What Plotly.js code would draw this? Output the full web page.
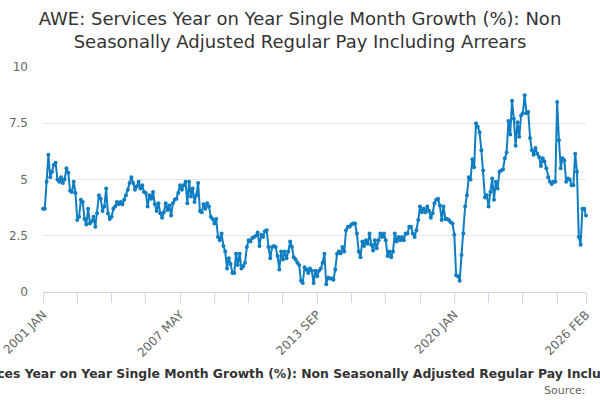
<!DOCTYPE html>
<html>
<head>
<meta charset="utf-8">
<script src="https://cdn.plot.ly/plotly-3.0.1.min.js"></script>
<style>
  html, body { margin: 0; padding: 0; background: #fff; }
  #chart { width: 600px; height: 400px; }
</style>
</head>
<body>
<div id="chart"></div>
<script>
// ---- Data: monthly values, 2001 JAN .. 2026 FEB ----
const firstYear = 2001;
const monthNames = ['JAN', 'FEB', 'MAR', 'APR', 'MAY', 'JUN', 'JUL', 'AUG', 'SEP', 'OCT', 'NOV', 'DEC'];

const growth2001to2005 = [
  3.7, 3.7, 4.9, 6.1, 5.1, 5.35, 5.65, 5.75, 5.0, 4.9, 5.1, 4.85,
  5.0, 5.5, 5.3, 4.5, 4.45, 4.9, 4.4, 3.2, 3.35, 4.1, 4.0, 3.25,
  3.0, 3.7, 3.05, 3.15, 3.35, 2.9, 3.5, 4.3, 4.15, 3.6, 3.8, 4.6,
  3.5, 3.25, 3.35, 3.7, 3.8, 4.0, 3.9, 4.0, 3.9, 4.1, 4.3, 4.55,
  4.85, 5.1, 4.85, 4.55, 4.7, 4.9, 4.6, 4.75, 4.45, 4.4, 3.8, 4.3,
];
const growth2006to2010 = [
  4.15, 4.45, 3.9, 3.6, 3.95, 3.5, 3.3, 3.55, 3.95, 3.65, 3.85, 3.4,
  3.95, 4.1, 4.15, 4.4, 4.75, 4.55, 4.75, 4.9, 3.95, 4.9, 4.25, 4.6,
  4.0, 4.3, 4.85, 3.6, 3.55, 3.9, 3.7, 3.95, 3.8, 3.35, 3.25, 3.05,
  3.25, 2.45, 2.3, 2.6, 2.05, 1.8, 1.05, 1.5, 1.25, 0.85, 0.85, 1.7,
  1.2, 1.7, 1.05, 1.15, 1.3, 2.0, 2.3, 2.25, 2.4, 2.45, 2.5, 2.65,
];
const growth2011to2015 = [
  2.05, 2.55, 2.45, 2.7, 2.75, 2.0, 1.5, 2.0, 2.05, 2.0, 1.6, 1.0,
  1.8, 1.45, 1.8, 1.5, 1.8, 2.25, 2.0, 1.55, 1.45, 1.3, 1.2, 0.5,
  0.4, 1.1, 1.0, 0.85, 1.05, 0.95, 0.4, 0.95, 0.7, 0.95, 1.05, 1.3,
  1.7, 0.35, 0.65, 0.6, 0.6, 0.55, 1.0, 1.7, 1.8, 1.72, 2.0, 1.8,
  2.75, 2.9, 2.9, 3.0, 3.05, 3.05, 2.6, 1.8, 1.55, 2.25, 2.05, 2.3,
];
const growth2016to2020 = [
  2.15, 2.6, 2.1, 1.85, 2.3, 1.95, 2.3, 2.6, 2.45, 2.6, 2.3, 1.6,
  1.8, 1.55, 1.8, 2.6, 2.25, 2.45, 2.3, 2.45, 2.3, 2.6, 2.6, 2.9,
  2.9, 2.6, 2.45, 2.75, 3.2, 3.8, 3.55, 3.7, 3.55, 3.8, 3.6, 3.3,
  3.5, 3.95, 4.1, 4.15, 3.85, 3.2, 3.8, 3.25, 3.25, 3.2, 3.1, 3.05,
  2.55, 0.75, 0.7, 0.5, 1.65, 2.6, 3.8, 4.3, 5.1, 5.0, 5.9, 5.55,
];
const growth2021to2026 = [
  7.5, 7.35, 7.1, 6.3, 5.4, 4.2, 4.3, 3.8, 4.45, 5.05, 4.1, 4.9,
  4.6, 5.35, 5.4, 5.45, 5.95, 6.2, 7.6, 7.0, 8.5, 7.7, 6.5, 7.55,
  6.9, 7.85, 7.95, 8.75, 7.95, 8.0, 6.85, 6.3, 6.1, 6.4, 6.15, 6.0,
  5.6, 5.95, 5.8, 5.5, 5.1, 4.9, 4.8, 4.9, 4.9, 8.45, 6.75, 5.5,
  5.95, 5.85, 4.9, 5.05, 5.0, 4.75, 4.75, 6.15, 5.35, 2.45, 2.1, 3.7,
  3.7, 3.4,
];

const tickLabels = ['2001 JAN', '2007 MAY', '2013 SEP', '2020 JAN', '2026 FEB'];
const yTicks = [0, 2.5, 5, 7.5, 10];

const seriesTitle = 'AWE: Services Year on Year Single Month Growth (%): Non Seasonally Adjusted Regular Pay Including Arrears';

const values = [].concat(growth2001to2005, growth2006to2010, growth2011to2015, growth2016to2020, growth2021to2026);
const months = values.map((_, i) => `${firstYear + Math.floor(i / 12)} ${monthNames[i % 12]}`);

// tick marks every 19 months plus the last month, labels on a few of them
const tickIdx = [];
for (let i = 0; i < months.length - 1; i += 19) tickIdx.push(i);
tickIdx.push(months.length - 1);
const tickVals = tickIdx.map(i => months[i]);
const tickText = tickVals.map(m => tickLabels.includes(m) ? m : '');

const lineColor = '#0f7dc2';
const muted = '#666666';
const axisColor = '#ccd6eb';

Plotly.newPlot('chart', [{
  type: 'scatter',
  mode: 'lines+markers',
  x: months,
  y: values,
  line: { color: lineColor, width: 2 },
  marker: { color: lineColor, size: 4 },
  cliponaxis: false,
  hoverinfo: 'x+y',
}], {
  width: 600,
  height: 400,
  font: { family: 'DejaVu Sans, sans-serif', color: muted },
  paper_bgcolor: '#ffffff',
  plot_bgcolor: '#ffffff',
  margin: { l: 43, r: 14, t: 67, b: 108 },
  showlegend: false,
  title: {
    text: 'AWE: Services Year on Year Single Month Growth (%): Non<br>Seasonally Adjusted Regular Pay Including Arrears',
    font: { size: 18, color: '#333333' },
    x: 0.5, xref: 'container', xanchor: 'center',
    y: 0.938, yref: 'container', yanchor: 'middle',
  },
  xaxis: {
    type: 'category',
    range: [0, months.length - 1],
    tickmode: 'array',
    tickvals: tickVals,
    ticktext: tickText,
    tickangle: -45,
    ticks: 'outside',
    ticklen: 10,
    tickcolor: axisColor,
    showline: true,
    linecolor: axisColor,
    linewidth: 1,
    showgrid: false,
    zeroline: false,
    tickfont: { size: 12, color: muted },
  },
  yaxis: {
    range: [0, 10],
    tickmode: 'array',
    tickvals: yTicks,
    ticktext: yTicks.map(String),
    showgrid: true,
    gridcolor: '#e6e6e6',
    zeroline: false,
    showline: false,
    ticks: '',
    ticklabelstandoff: 14,
    tickfont: { size: 12, color: muted },
  },
  annotations: [
    {
      text: '<b>' + seriesTitle + '</b>',
      xref: 'paper', yref: 'paper',
      x: 0.4825, y: -0.36,
      xanchor: 'center', yanchor: 'middle',
      showarrow: false,
      font: { size: 12.4, color: '#333333' },
    },
    {
      text: 'Source:',
      xref: 'paper', yref: 'paper',
      x: 1, y: -0.436,
      xanchor: 'right', yanchor: 'middle',
      xshift: 2,
      showarrow: false,
      font: { size: 11, color: muted },
    },
  ],
}, { displayModeBar: false, responsive: false });
</script>
</body>
</html>
